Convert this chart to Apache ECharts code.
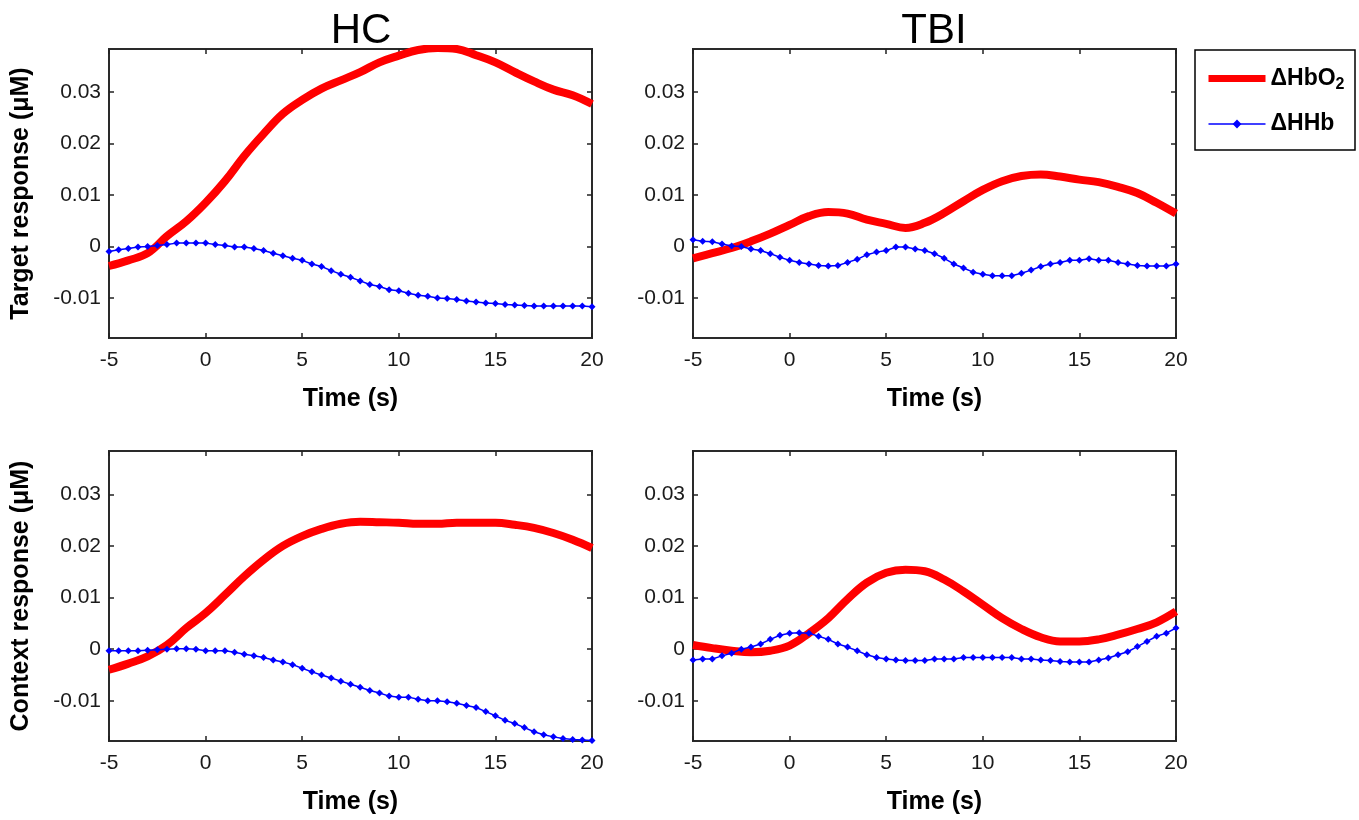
<!DOCTYPE html>
<html><head><meta charset="utf-8">
<script src="https://cdn.jsdelivr.net/npm/echarts@6/dist/echarts.min.js"></script>
<style>html,body{margin:0;padding:0;background:#fff}#c{width:1359px;height:820px}</style>
</head><body><div id="c"></div>
<script>
// ---- data ----
const timeRed = [-5,-4,-3,-2,-1,0,1,2,3,4,5,6,7,8,9,10,11,12,13,14,15,16,17,18,19,20];
const timeBlue = [-5,-4.5,-4,-3.5,-3,-2.5,-2,-1.5,-1,-0.5,0,0.5,1,1.5,2,2.5,3,3.5,4,4.5,5,5.5,6,6.5,7,7.5,8,8.5,9,9.5,10,10.5,11,11.5,12,12.5,13,13.5,14,14.5,15,15.5,16,16.5,17,17.5,18,18.5,19,19.5,20];
const xTicks = [-5,0,5,10,15,20];
const yTicks = [-0.01,0,0.01,0.02,0.03];
const panelTitles = ['HC','TBI'];
const rowLabels = ['Target response (μM)','Context response (μM)'];
const seriesNames = ['ΔHbO2','ΔHHb'];

const hcTargetHbO2 = [-0.0038,-0.0027,-0.0013,0.0020,0.0049,0.0085,0.0127,0.0176,0.0219,0.0258,0.0285,0.0307,0.0323,0.0339,0.0358,0.0371,0.0382,0.0386,0.0384,0.0372,0.0358,0.0339,0.0321,0.0305,0.0294,0.0277];
const hcTargetHHb = [-0.0010,-0.00065,-0.0004,-0.0001,0.0000,0.0002,0.0004,0.00065,0.00065,0.00065,0.00065,0.0004,0.0002,-0.0001,-0.0001,-0.0004,-0.0008,-0.0013,-0.0018,-0.0023,-0.0027,-0.0034,-0.0039,-0.0047,-0.0054,-0.0060,-0.0067,-0.0074,-0.0078,-0.0084,-0.0086,-0.0091,-0.0095,-0.0097,-0.0100,-0.0101,-0.0103,-0.0106,-0.0108,-0.0110,-0.0111,-0.0113,-0.0114,-0.0115,-0.0116,-0.0116,-0.0116,-0.0116,-0.0116,-0.0116,-0.0117];
const tbiTargetHbO2 = [-0.0023,-0.0013,-0.0003,0.0010,0.0025,0.0042,0.0059,0.0067,0.0064,0.0052,0.0044,0.0036,0.0046,0.0065,0.0088,0.0110,0.0127,0.0137,0.0140,0.0136,0.0130,0.0125,0.0116,0.0104,0.0085,0.0064];
const tbiTargetHHb = [0.0013,0.0010,0.0009,0.0005,0.0001,0.0000,-0.0005,-0.0008,-0.0014,-0.0021,-0.0027,-0.0031,-0.0034,-0.0037,-0.0038,-0.0037,-0.0031,-0.0025,-0.0016,-0.0011,-0.0008,-0.0001,-0.0001,-0.0005,-0.0008,-0.0014,-0.0023,-0.0034,-0.0042,-0.0050,-0.0054,-0.0057,-0.0057,-0.0057,-0.0052,-0.0046,-0.0039,-0.0034,-0.0031,-0.0027,-0.0027,-0.0024,-0.0027,-0.0027,-0.0031,-0.0034,-0.0037,-0.0038,-0.0038,-0.0038,-0.0034];
const hcContextHbO2 = [-0.0040,-0.0028,-0.0014,0.0008,0.0041,0.0070,0.0105,0.0141,0.0173,0.0200,0.0219,0.0233,0.0243,0.0247,0.0246,0.0245,0.0243,0.0243,0.0245,0.0245,0.0245,0.0241,0.0235,0.0225,0.0212,0.0196];
const hcContextHHb = [-0.0003,-0.0003,-0.0003,-0.0003,-0.0002,-0.0001,0.0000,0.0001,0.0001,0.0000,-0.0003,-0.0003,-0.0003,-0.0006,-0.0010,-0.0013,-0.0016,-0.0021,-0.0025,-0.0030,-0.0037,-0.0044,-0.0050,-0.0056,-0.0062,-0.0068,-0.0074,-0.0080,-0.0085,-0.0091,-0.0093,-0.0093,-0.0097,-0.0100,-0.0100,-0.0102,-0.0105,-0.0109,-0.0113,-0.0121,-0.0129,-0.0138,-0.0144,-0.0152,-0.0160,-0.0166,-0.0170,-0.0173,-0.0175,-0.0176,-0.0177];
const tbiContextHbO2 = [0.0008,0.0002,-0.0003,-0.0006,-0.0003,0.0007,0.0031,0.0060,0.0097,0.0129,0.0148,0.0154,0.0151,0.0135,0.0112,0.0086,0.0060,0.0039,0.0023,0.0015,0.0015,0.0019,0.0028,0.0039,0.0052,0.0073];
const tbiContextHHb = [-0.0021,-0.0019,-0.0019,-0.0013,-0.0008,0.0000,0.0004,0.0010,0.0019,0.0027,0.0031,0.0032,0.0031,0.0025,0.0019,0.0010,0.0004,-0.0003,-0.0011,-0.0016,-0.0019,-0.0021,-0.0022,-0.0022,-0.0022,-0.0019,-0.0019,-0.0019,-0.0016,-0.0016,-0.0016,-0.0016,-0.0016,-0.0016,-0.0019,-0.0019,-0.0021,-0.0022,-0.0024,-0.0025,-0.0025,-0.0025,-0.0021,-0.0017,-0.0011,-0.0005,0.0005,0.0015,0.0025,0.0031,0.0041];

// ---- layout ----
const FONT = '"Liberation Sans", Arial, sans-serif';
const Y_MIN = -0.0178, Y_MAX = 0.0384;
const panels = [
  {grid:{left:109, top:49, width:483, height:289}, red:hcTargetHbO2, blue:hcTargetHHb, yName:rowLabels[0]},
  {grid:{left:693, top:49, width:483, height:289}, red:tbiTargetHbO2, blue:tbiTargetHHb, yName:''},
  {grid:{left:109, top:451, width:483, height:290}, red:hcContextHbO2, blue:hcContextHHb, yName:rowLabels[1]},
  {grid:{left:693, top:451, width:483, height:290}, red:tbiContextHbO2, blue:tbiContextHHb, yName:''}
];
const zip = (xs, ys) => xs.map((x, i) => [x, ys[i]]);
const tickStyle = {color:'#222', width:1.5};
const noLine = {show:false, onZero:false};

const grid = [], xAxis = [], yAxis = [], series = [];
panels.forEach((p) => {
  grid.push(Object.assign({show:true, borderColor:'#2a2a2a', borderWidth:2, backgroundColor:'#fff'}, p.grid));
});
panels.forEach((p, i) => {
  xAxis.push({type:'value', gridIndex:i, position:'bottom', min:-5, max:20,
    axisLine:noLine, splitLine:{show:false},
    axisTick:{show:true, inside:true, length:5, lineStyle:tickStyle, customValues:xTicks},
    axisLabel:{show:true, customValues:xTicks, margin:12, fontSize:21, color:'#1a1a1a', fontFamily:FONT, formatter:v=>String(v)},
    name:'Time (s)', nameLocation:'middle', nameGap:49,
    nameTextStyle:{fontWeight:'bold', fontSize:25, color:'#000', fontFamily:FONT}});
  yAxis.push({type:'value', gridIndex:i, position:'left', min:Y_MIN, max:Y_MAX,
    axisLine:noLine, splitLine:{show:false},
    axisTick:{show:true, inside:true, length:5, lineStyle:tickStyle, customValues:yTicks},
    axisLabel:{show:true, customValues:yTicks, margin:8, fontSize:21, color:'#1a1a1a', fontFamily:FONT, formatter:v=>String(v)},
    name:p.yName, nameLocation:'middle', nameRotate:90, nameGap:75,
    nameTextStyle:{fontWeight:'bold', fontSize:25, color:'#000', fontFamily:FONT}});
});
panels.forEach((p, i) => {
  xAxis.push({type:'value', gridIndex:i, position:'top', min:-5, max:20,
    axisLine:noLine, splitLine:{show:false}, axisLabel:{show:false},
    axisTick:{show:true, inside:true, length:5, lineStyle:tickStyle, customValues:xTicks}});
  yAxis.push({type:'value', gridIndex:i, position:'right', min:Y_MIN, max:Y_MAX,
    axisLine:noLine, splitLine:{show:false}, axisLabel:{show:false},
    axisTick:{show:true, inside:true, length:5, lineStyle:tickStyle, customValues:yTicks}});
});
panels.forEach((p, i) => {
  series.push({type:'line', name:seriesNames[0], xAxisIndex:i, yAxisIndex:i, data:zip(timeRed, p.red),
    symbol:'none', showSymbol:false, smooth:0.4, clip:true, z:2,
    lineStyle:{color:'#ff0000', width:8}, itemStyle:{color:'#ff0000'}});
  series.push({type:'line', name:seriesNames[1], xAxisIndex:i, yAxisIndex:i, data:zip(timeBlue, p.blue),
    symbol:'diamond', symbolSize:7, showSymbol:true, clip:true, z:3,
    lineStyle:{color:'#0000ff', width:1.5}, itemStyle:{color:'#0000ff'}});
});

const option = {
  animation:false,
  backgroundColor:'#fff',
  grid, xAxis, yAxis, series,
  legend:{orient:'vertical', left:1200, top:62, itemWidth:57, itemHeight:11, itemGap:20,
    selectedMode:false,
    data:[
      {name:seriesNames[0], itemStyle:{opacity:0}, lineStyle:{width:7, color:'#ff0000'}},
      {name:seriesNames[1], lineStyle:{width:1.5, color:'#0000ff'}}
    ],
    formatter:n => n === 'ΔHbO2' ? '{m|ΔHbO}{s|2}' : '{m|ΔHHb}',
    textStyle:{color:'#000', fontFamily:FONT, rich:{
      m:{fontSize:23, fontWeight:'bold', color:'#000', fontFamily:FONT},
      s:{fontSize:16, fontWeight:'bold', color:'#000', fontFamily:FONT, padding:[12,0,0,0]}}}},
  graphic:[
    {type:'rect', z:-1, shape:{x:1195, y:50, width:160, height:100}, style:{fill:'#fff', stroke:'#000', lineWidth:1.5}},
    {type:'text', x:361, y:31, style:{text:panelTitles[0], fontSize:42, fontFamily:FONT, fill:'#000', align:'center', verticalAlign:'middle'}},
    {type:'text', x:934, y:31, style:{text:panelTitles[1], fontSize:42, fontFamily:FONT, fill:'#000', align:'center', verticalAlign:'middle'}}
  ]
};
const chart = echarts.init(document.getElementById('c'), null, {renderer:'canvas'});
chart.setOption(option);
</script></body></html>
